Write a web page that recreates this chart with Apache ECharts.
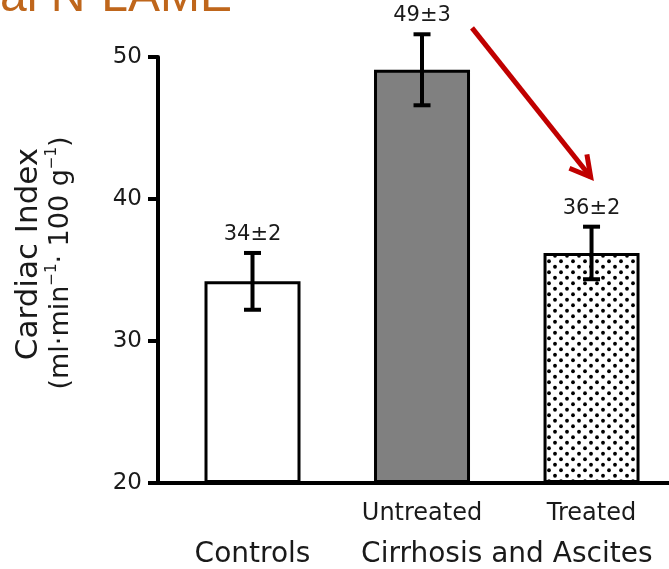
<!DOCTYPE html>
<html>
<head>
<meta charset="utf-8">
<script src="https://cdn.jsdelivr.net/npm/echarts@6/dist/echarts.min.js"></script>
<style>
  html, body { margin: 0; padding: 0; background: #fff; }
  #chart { width: 669px; height: 569px; }
</style>
</head>
<body>
<div id="chart"></div>
<script>
// Cardiac index by group (mean and SEM, ml·min-1·100 g-1)
const categories = ['Controls', 'Untreated', 'Treated'];
const subLabels = ['', 'Untreated', 'Treated'];
const groupNames = ['Controls', 'Cirrhosis and Ascites'];
const groupFrom = [0, 1];
const groupTo = [0, 2];
const means = [34.2, 49.1, 36.2];
const sems = [2.0, 2.5, 1.85];
const yTicks = [20, 30, 40, 50];
// Arrow from the untreated label down to the treated bar (x index, y value)
const arrowFrom = [1.295, 52.05];
const arrowTo = [1.995, 41.55];

const FONT = '"DejaVu Sans", sans-serif';
const X_MIN = -0.5575, X_MAX = 2.457;

function dotPattern() {
  const c = document.createElement('canvas');
  c.width = 12; c.height = 11;
  const g = c.getContext('2d');
  g.fillStyle = '#fff';
  g.fillRect(0, 0, 12, 11);
  g.fillStyle = '#000';
  [[3, 2.75], [9, 8.25]].forEach(function (p) {
    g.beginPath();
    g.arc(p[0], p[1], 1.9, 0, Math.PI * 2);
    g.fill();
  });
  return c;
}

const fills = ['#ffffff', '#808080', { image: dotPattern(), repeat: 'repeat' }];

// Row one: per-bar labels; row two: group names centred over their bars
const subPos = categories.map(function (c, i) { return i; });
const groupPos = groupNames.map(function (n, k) { return (groupFrom[k] + groupTo[k]) / 2; });

function labelFor(positions, texts) {
  return function (v) {
    for (let i = 0; i < positions.length; i++) {
      if (Math.abs(positions[i] - v) < 1e-6) return texts[i];
    }
    return '';
  };
}

const chart = echarts.init(document.getElementById('chart'), null, { renderer: 'canvas' });

const baseX = {
  type: 'value',
  min: X_MIN,
  max: X_MAX,
  position: 'bottom',
  splitLine: { show: false },
  axisTick: { show: false }
};

chart.setOption({
  animation: false,
  backgroundColor: '#fff',
  grid: { left: 158, right: 0, top: 57, bottom: 86, containLabel: false },
  xAxis: [
    Object.assign({}, baseX, {
      axisLine: { show: true, onZero: false, lineStyle: { color: '#000', width: 4 } },
      axisLabel: {
        customValues: subPos,
        margin: 19,
        hideOverlap: false,
        fontFamily: FONT, fontSize: 24, color: '#1a1a1a',
        formatter: labelFor(subPos, subLabels)
      }
    }),
    Object.assign({}, baseX, {
      offset: 40,
      axisLine: { show: false, onZero: false },
      axisLabel: {
        customValues: groupPos,
        margin: 18,
        hideOverlap: false,
        fontFamily: FONT, fontSize: 28, color: '#1a1a1a',
        formatter: labelFor(groupPos, groupNames)
      }
    })
  ],
  yAxis: {
    type: 'value',
    min: yTicks[0],
    max: yTicks[yTicks.length - 1],
    interval: yTicks[1] - yTicks[0],
    startValue: yTicks[0],
    splitLine: { show: false },
    axisLine: { show: true, onZero: false, lineStyle: { color: '#000', width: 4 } },
    axisTick: { show: true, length: 10, lineStyle: { color: '#000', width: 4 } },
    axisLabel: { fontFamily: FONT, fontSize: 23, color: '#1a1a1a', margin: 16 },
    name: '{a|Cardiac Index}\n{b|(ml·min}{s|−1}{b|· 100 g}{s|−1}{b|)}',
    nameLocation: 'middle',
    nameGap: 82,
    nameTextStyle: {
      padding: [0, 0, 0, 14],
      rich: {
        a: { fontFamily: FONT, fontSize: 31, color: '#1a1a1a', lineHeight: 32, padding: [0, 0, 0, 18] },
        b: { fontFamily: FONT, fontSize: 27, color: '#1a1a1a', lineHeight: 31 },
        s: { fontFamily: FONT, fontSize: 15, color: '#1a1a1a', lineHeight: 15, verticalAlign: 'top' }
      }
    }
  },
  graphic: [{
    type: 'text',
    x: 0,
    y: -2,
    silent: true,
    style: {
      text: 'al N-LAME',
      font: '48px "Liberation Sans", Arial, sans-serif',
      fill: '#BF661B',
      textAlign: 'left',
      textVerticalAlign: 'middle',
      verticalAlign: 'middle',
      shadowColor: 'rgba(0,0,0,0.4)',
      shadowBlur: 4,
      shadowOffsetX: 2,
      shadowOffsetY: 2
    }
  }],
  series: [
    {
      type: 'bar',
      barWidth: 96,
      data: means.map(function (m, i) {
        return { value: [i, m], itemStyle: { color: fills[i] } };
      }),
      itemStyle: { borderColor: '#000', borderWidth: 3 },
      z: 2
    },
    {
      type: 'custom',
      z: 5,
      data: means.map(function (m, i) { return [i, m, sems[i]]; }),
      renderItem: function (params, api) {
        const x = api.value(0), m = api.value(1), e = api.value(2);
        const hi = api.coord([x, m + e]);
        const lo = api.coord([x, m - e]);
        const cap = 8.5;
        const ls = { stroke: '#000', lineWidth: 4 };
        return {
          type: 'group',
          children: [
            { type: 'line', shape: { x1: hi[0], y1: hi[1], x2: lo[0], y2: lo[1] }, style: ls },
            { type: 'line', shape: { x1: hi[0] - cap, y1: hi[1], x2: hi[0] + cap, y2: hi[1] }, style: ls },
            { type: 'line', shape: { x1: lo[0] - cap, y1: lo[1], x2: lo[0] + cap, y2: lo[1] }, style: ls },
            {
              type: 'text',
              x: hi[0], y: hi[1] - 8,
              style: {
                text: Math.round(m) + '±' + Math.round(e),
                font: '21px ' + FONT,
                fill: '#1a1a1a',
                textAlign: 'center', align: 'center',
                textVerticalAlign: 'bottom', verticalAlign: 'bottom'
              }
            }
          ]
        };
      }
    },
    {
      type: 'custom',
      z: 6,
      silent: true,
      data: [[arrowFrom[0], arrowFrom[1], arrowTo[0], arrowTo[1]]],
      encode: { x: [0, 2], y: [1, 3] },
      renderItem: function (params, api) {
        const p0 = api.coord([api.value(0), api.value(1)]);
        const p1 = api.coord([api.value(2), api.value(3)]);
        const ang = Math.atan2(p1[1] - p0[1], p1[0] - p0[0]);
        const L = 23, a = Math.PI / 6.2;
        const w1 = [p1[0] - L * Math.cos(ang - a), p1[1] - L * Math.sin(ang - a)];
        const w2 = [p1[0] - L * Math.cos(ang + a), p1[1] - L * Math.sin(ang + a)];
        const st = { stroke: '#C00000', lineWidth: 5, fill: null, lineJoin: 'miter' };
        return {
          type: 'group',
          children: [
            { type: 'line', shape: { x1: p0[0], y1: p0[1], x2: p1[0], y2: p1[1] }, style: st },
            { type: 'polyline', shape: { points: [w1, p1, w2] }, style: st }
          ]
        };
      }
    }
  ]
});
</script>
</body>
</html>
